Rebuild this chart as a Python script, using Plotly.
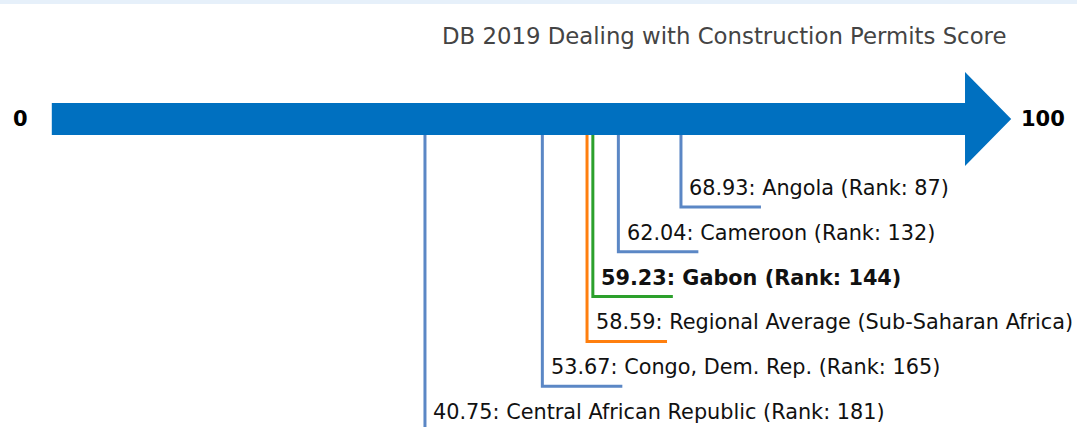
import plotly.graph_objects as go

title = "DB 2019 Dealing with Construction Permits Score"
names = ["Angola (Rank: 87)", "Cameroon (Rank: 132)", "Gabon (Rank: 144)",
         "Regional Average (Sub-Saharan Africa)", "Congo, Dem. Rep. (Rank: 165)",
         "Central African Republic (Rank: 181)"]
scores = [68.93, 62.04, 59.23, 58.59, 53.67, 40.75]
colors = ["#5b87c5", "#5b87c5", "#2ca02c", "#ff7f0e", "#5b87c5", "#5b87c5"]
bold = [False, False, True, False, False, False]
axis_min, axis_max = 0, 100

W, H = 1077, 427
px_per_unit = 9.084
x0_px = 54.8
xr = [-x0_px / px_per_unit, (W - x0_px) / px_per_unit]

fig = go.Figure()

# arrow
body_top, body_bot = 103, 135
head_top, head_bot = 72, 166
tip = axis_max + 48 / px_per_unit
start = axis_min - 3 / px_per_unit
mid = (body_top + body_bot) / 2
path = (f"M {start},{body_top} L {axis_max + 0.2},{body_top} L {axis_max + 0.2},{head_top} "
        f"L {tip},{mid} L {axis_max + 0.2},{head_bot} L {axis_max + 0.2},{body_bot} L {start},{body_bot} Z")
fig.add_shape(type="path", path=path, fillcolor="#0070c0", line=dict(width=0), layer="below")

# top band
fig.add_shape(type="rect", xref="paper", yref="paper", x0=0, x1=1, y0=1 - 4 / H, y1=1,
              fillcolor="#e6f0fa", line=dict(width=0))

level0 = 207
step = 44.8
hlen = 80 / px_per_unit
for i, (s, n, c, b) in enumerate(zip(scores, names, colors, bold)):
    lvl = level0 + i * step
    fig.add_trace(go.Scatter(x=[s, s, s + hlen], y=[body_bot, lvl, lvl], mode="lines",
                             line=dict(color=c, width=3), hoverinfo="skip", showlegend=False))
    txt = f"{s:.2f}: {n}"
    if b:
        txt = f"<b>{txt}</b>"
    fig.add_annotation(x=s + 6.5 / px_per_unit, y=lvl - 19, text=txt, showarrow=False,
                       xanchor="left", yanchor="middle",
                       font=dict(family="DejaVu Sans", size=20.8, color="#111111"))

fig.add_annotation(x=axis_min, y=mid, text=f"<b>{axis_min}</b>", showarrow=False,
                   xanchor="center", yanchor="middle", xshift=-34,
                   font=dict(family="DejaVu Sans", size=21, color="#000000"))
fig.add_annotation(x=tip, y=mid, text=f"<b>{axis_max}</b>", showarrow=False,
                   xanchor="left", yanchor="middle", xshift=8,
                   font=dict(family="DejaVu Sans", size=21, color="#000000"))

fig.add_annotation(xref="paper", x=724.5 / W, y=36, text=title, showarrow=False,
                   xanchor="center", yanchor="middle",
                   font=dict(family="DejaVu Sans", size=22.8, color="#444444"))

fig.update_layout(
    width=W, height=H, margin=dict(l=0, r=0, t=0, b=0),
    plot_bgcolor="white", paper_bgcolor="white",
    xaxis=dict(range=xr, visible=False, fixedrange=True),
    yaxis=dict(range=[H, 0], visible=False, fixedrange=True),
    showlegend=False,
)
fig.write_html("out.html", config={"displayModeBar": False},
               post_script="document.body.style.margin='0';document.body.style.overflow='hidden';")
